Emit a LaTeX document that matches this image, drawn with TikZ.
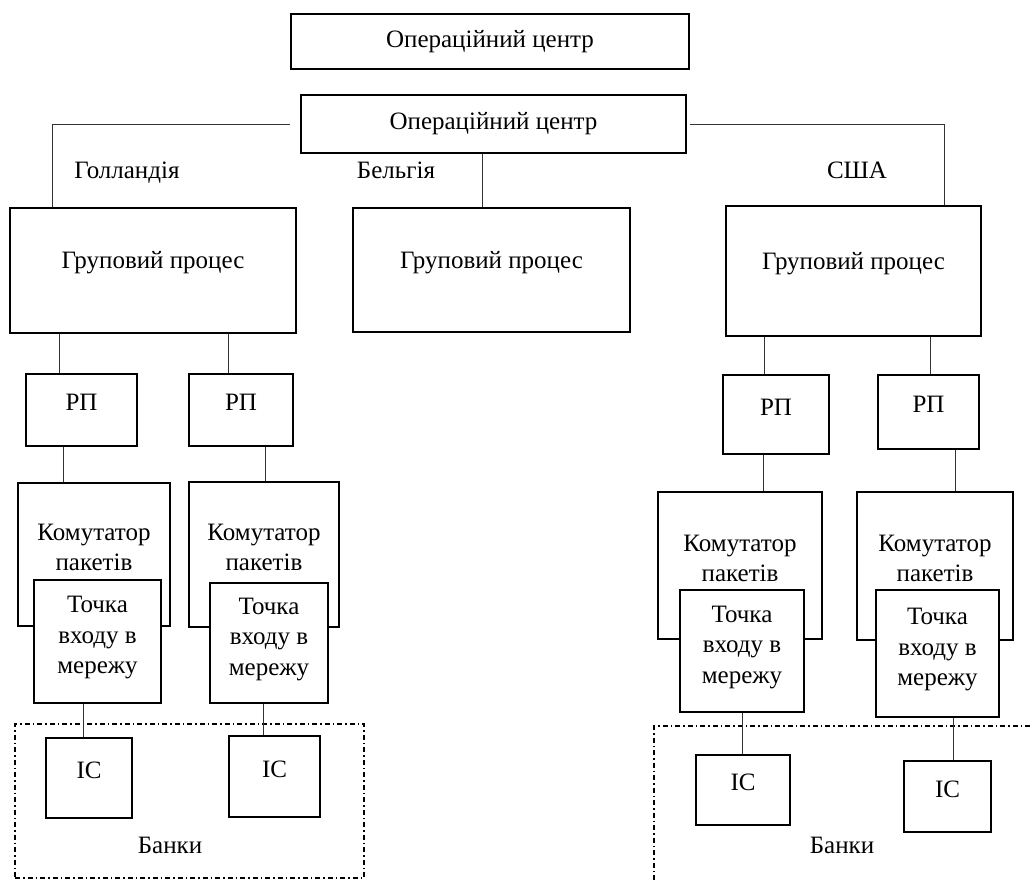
\documentclass[tikz,border=0pt]{standalone}
\usepackage{fontspec}
\setmainfont{Liberation Serif}

\begin{document}
\begin{tikzpicture}[x=1pt, y=-1pt, every node/.style={font=\fontsize{25}{30}\selectfont, align=center, inner sep=0pt}, box/.style={draw, line width=1.6pt, fill=white}, lbl/.style={yshift=7.5pt}, banks/.style={draw, line width=1.3pt, dash pattern=on 5pt off 3pt on 1.5pt off 3pt}, link/.style={line width=0.8pt, black!80}]
    \path[use as bounding box, clip] (0,0) rectangle (1030,880);

    \node[banks, minimum width=349, minimum height=154] (banks1) at (189.5,801) {};
    \node[banks, minimum width=391, minimum height=169] (banks2) at (849.5,810.5) {};
    \node (bnk1) at (170,845) {Банки};
    \node (bnk2) at (842,845) {Банки};

    \node[box, minimum width=398, minimum height=55] (oc1) at (490,41.5) {Операційний центр};
    \node[box, minimum width=385, minimum height=58] (oc2) at (493.5,124) {Операційний центр};

    \node (nl) at (127,173) {Голландія};
    \node (be) at (396,170) {Бельгія};
    \node (us) at (857,170) {США};

    \foreach \i/\x/\y/\w/\h in {1/153/270.5/286/125, 2/491.5/270/277/124, 3/853.5/271/255/130}
        \node[box, minimum width=\w, minimum height=\h, label={[lbl]center:Груповий процес}] (gp\i) at (\x,\y) {};

    \foreach \i/\x/\y/\w/\h in {1/81.5/410/111/72, 2/241/410/104/72, 3/776/414.5/106/79, 4/928.5/412/101/74}
        \node[box, minimum width=\w, minimum height=\h, label={[lbl]center:РП}] (rp\i) at (\x,\y) {};

    \foreach \i/\x/\y/\w/\h in {1/94/554.5/152/143, 2/264/554.5/150/145, 3/740/565.5/164/147, 4/935/566/156/148}
        \node[box, minimum width=\w, minimum height=\h, label={[lbl]center:Комутатор\\пакетів}] (sw\i) at (\x,\y) {};

    \foreach \i/\x/\y/\w/\h in {1/97.5/641.5/127/123, 2/269/643/118/120, 3/742/651/124/122, 4/937.5/653.5/123/127}
        \node[box, minimum width=\w, minimum height=\h, label={[lbl, yshift=-4pt, font=\fontsize{25}{30.5}\selectfont]center:Точка\\входу в\\мережу}] (ep\i) at (\x,\y) {};

    \foreach \i/\x/\y/\w/\h in {1/89/778/86/80, 2/274.5/776.5/91/81, 3/743/790/94/70, 4/947.5/796.5/87/71}
        \node[box, minimum width=\w, minimum height=\h, label={[lbl]center:IC}] (ic\i) at (\x,\y) {};

    % lines from the centre to the groups
    \draw[link] ([xshift=-10pt]oc2.west) -| (52,0 |- gp1.north);
    \draw[link] ([xshift=3pt]oc2.east) -| (944,0 |- gp3.north);
    \draw[link] (oc2.south -| 482,0) -- (482,0 |- gp2.north);

    \foreach \x/\a/\b in {59/gp1/rp1, 228/gp1/rp2, 63/rp1/sw1, 265/rp2/sw2, 83/ep1/ic1, 263/ep2/ic2, 764/gp3/rp3, 930/gp3/rp4, 763/rp3/sw3, 955/rp4/sw4, 742/ep3/ic3, 953/ep4/ic4}
        \draw[link] (\x,0 |- \a.south) -- (\x,0 |- \b.north);
\end{tikzpicture}
\end{document}
